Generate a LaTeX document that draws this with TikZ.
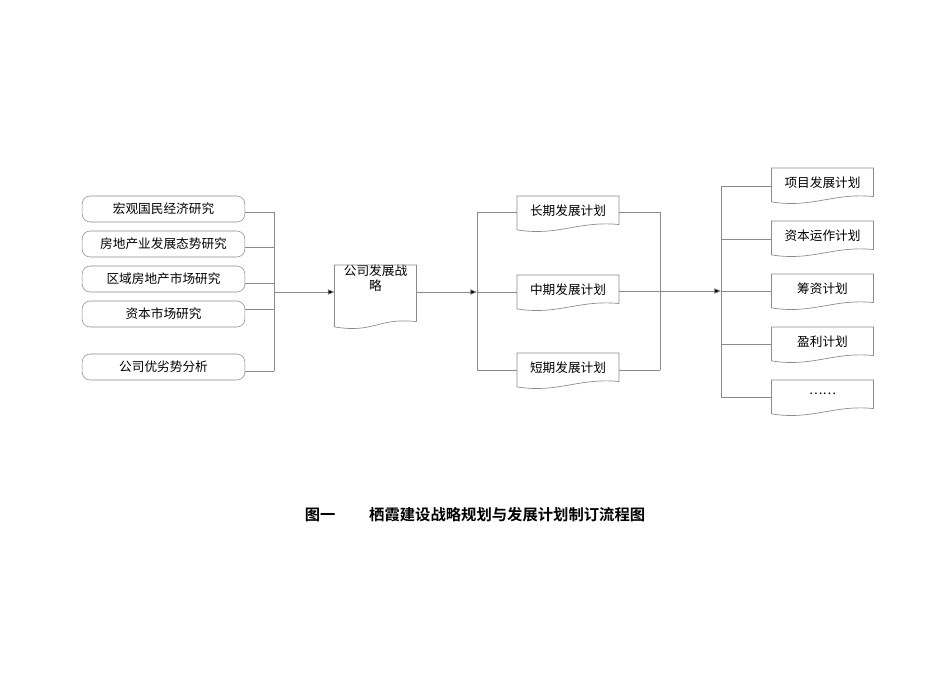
\documentclass[tikz,border=0pt]{standalone}
\usepackage{fontspec}
\newfontfamily\cjk{Noto Sans CJK SC}
\newfontfamily\cjkb{Noto Sans CJK SC Bold}
\usetikzlibrary{arrows.meta}
\definecolor{ln}{HTML}{8A8A8A}
\begin{document}
\begin{tikzpicture}[x=0.75pt,y=-0.75pt,
  every node/.style={font=\cjk\fontsize{9.5}{11}\selectfont,inner sep=0pt,align=center},
  rbox/.style={draw=ln,rounded corners=6pt,minimum width=122pt,minimum height=19.5pt},
  dbox/.style={minimum width=76pt,minimum height=21pt},
  sbox/.style={minimum width=61pt,minimum height=36pt},
  con/.style={draw=ln,line width=0.5pt},
  arr/.style={con,-{Triangle[length=5pt,width=4pt,fill=black]}}]
\useasboundingbox (0,0) rectangle (950,672);
\newcommand\docdraw[1]{\draw[ln,line width=0.5pt] (#1.south east) -- (#1.north east) -- (#1.north west) -- ([yshift=-4pt]#1.south west) .. controls +(30pt,-5pt) and +(-30pt,3pt) .. (#1.south east);}
% left
\node[rbox] (a1) at (163.5,209) {宏观国民经济研究};
\node[rbox] (a2) at (163.5,244) {房地产业发展态势研究};
\node[rbox] (a3) at (163.5,279) {区域房地产市场研究};
\node[rbox] (a4) at (163.5,314) {资本市场研究};
\node[rbox] (a5) at (163.5,367) {公司优劣势分析};
\coordinate (b1) at (274,212);\coordinate (b5) at (274,371);\coordinate (bm) at (274,292);
\foreach \i/\y in {1/212,2/247,3/283,4/309,5/371}{\draw[con] (a\i.east|-0,\y) -- (274,\y);}
\draw[con] (b1) -- (b5);
% strategy
\node[sbox,anchor=north] (s) at (375.5,265) {公司发展战\\略\\[12pt]};
\docdraw{s}
\draw[arr] (bm) -- (s.west|-bm);
% middle
\node[dbox,anchor=north] (m1) at (568,196) {长期发展计划};
\node[dbox,anchor=north] (m2) at (568,275) {中期发展计划};
\node[dbox,anchor=north] (m3) at (568,353) {短期发展计划};
\foreach \n in {m1,m2,m3}{\docdraw{\n}}
\coordinate (c1) at (477,212);\coordinate (c3) at (477,370);\coordinate (cm) at (477,292);
\draw[arr] (s.east|-cm) -- (cm);
\draw[con] (c1) -- (c3);
\draw[con] (c1) -- (m1.west|-c1); \draw[con] (cm) -- (m2.west|-cm); \draw[con] (c3) -- (m3.west|-c3);
\coordinate (d1) at (660,212);\coordinate (d3) at (660,370);
\draw[con] (d1) -- (d3);
\draw[con] (m1.east|-d1) -- (d1); \draw[con] (m3.east|-d3) -- (d3);
\coordinate (e1) at (721,186);\coordinate (e5) at (721,397);\coordinate (em) at (721,291);
\draw[arr] (m2.east|-em) -- (em);
\draw[con] (e1) -- (e5);
% right
\foreach \i/\t/\y in {1/项目发展计划/168,2/资本运作计划/221,3/筹资计划/274,4/盈利计划/327,5/……/380}{
  \node[dbox,anchor=north] (r\i) at (822.5,\y) {\t};
  \docdraw{r\i}
}
\foreach \i/\y in {1/186,2/239,3/291,4/344,5/397}{\draw[con] (721,\y) -- (r\i.west|-0,\y);}
% caption
\node[font=\cjkb\fontsize{11.5}{13}\selectfont] (cap) at (475,515) {图一\hspace{2.2em}栖霞建设战略规划与发展计划制订流程图};
\end{tikzpicture}
\end{document}
